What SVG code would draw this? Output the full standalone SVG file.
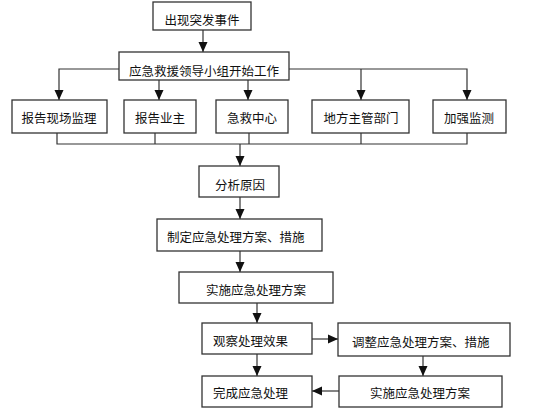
<svg xmlns="http://www.w3.org/2000/svg" width="560" height="420" viewBox="0 0 560 420">
<style>
.box{fill:#fff;stroke:#333;stroke-width:1.3}
.t{font-family:"Noto Sans CJK SC","Liberation Sans",sans-serif;font-size:12.5px;fill:#111}
.c{text-anchor:middle}
.ln{fill:none;stroke:#333;stroke-width:1.2}
</style>
<defs>
<marker id="ah" markerUnits="userSpaceOnUse" markerWidth="10" markerHeight="10" viewBox="0 0 10 10" refX="10" refY="5" orient="auto">
<path d="M0,0.5 L10,5 L0,9.5 Z" fill="#111"/>
</marker>
</defs>
<rect width="560" height="420" fill="#fff"/>
<g id="connectors">
<line class="ln" x1="203" y1="30" x2="203" y2="52" marker-end="url(#ah)"/>
<polyline class="ln" points="119,69 59,69 59,100" marker-end="url(#ah)"/>
<line class="ln" x1="159" y1="80" x2="159" y2="100" marker-end="url(#ah)"/>
<line class="ln" x1="248" y1="80" x2="248" y2="100" marker-end="url(#ah)"/>
<polyline class="ln" points="289,69 467,69 467,100" marker-end="url(#ah)"/>
<line class="ln" x1="361" y1="69" x2="361" y2="100" marker-end="url(#ah)"/>
<polyline class="ln" points="57,133 57,144 467,144 467,133"/>
<line class="ln" x1="155" y1="133" x2="155" y2="144"/>
<line class="ln" x1="249" y1="133" x2="249" y2="144"/>
<line class="ln" x1="361" y1="133" x2="361" y2="144"/>
<line class="ln" x1="240" y1="144" x2="240" y2="166" marker-end="url(#ah)"/>
<line class="ln" x1="240" y1="197" x2="240" y2="219" marker-end="url(#ah)"/>
<line class="ln" x1="240" y1="251" x2="240" y2="272" marker-end="url(#ah)"/>
<line class="ln" x1="257" y1="303" x2="257" y2="323" marker-end="url(#ah)"/>
<line class="ln" x1="312" y1="339" x2="338" y2="339" marker-end="url(#ah)"/>
<line class="ln" x1="257" y1="354" x2="257" y2="376" marker-end="url(#ah)"/>
<line class="ln" x1="423" y1="356" x2="423" y2="376" marker-end="url(#ah)"/>
<line class="ln" x1="339" y1="391" x2="312" y2="391" marker-end="url(#ah)"/>
</g>
<g id="n1"><rect class="box" x="153" y="2" width="98" height="28"/><text class="t c" x="202" y="25">出现突发事件</text></g>
<g id="n2"><rect class="box" x="119" y="52" width="170" height="28"/><text class="t c" x="204" y="76">应急救援领导小组开始工作</text></g>
<g id="n3"><rect class="box" x="12" y="100" width="95" height="33"/><text class="t c" x="59" y="123">报告现场监理</text></g>
<g id="n4"><rect class="box" x="124" y="100" width="72" height="33"/><text class="t c" x="160" y="123">报告业主</text></g>
<g id="n5"><rect class="box" x="216" y="100" width="72" height="33"/><text class="t c" x="252" y="123">急救中心</text></g>
<g id="n6"><rect class="box" x="312" y="100" width="97" height="33"/><text class="t c" x="361" y="123">地方主管部门</text></g>
<g id="n7"><rect class="box" x="433" y="100" width="73" height="33"/><text class="t c" x="469" y="123">加强监测</text></g>
<g id="n8"><rect class="box" x="199" y="166" width="80" height="31"/><text class="t c" x="240" y="190">分析原因</text></g>
<g id="n9"><rect class="box" x="157" y="219" width="165" height="32"/><text class="t" x="167" y="242">制定应急处理方案、措施</text></g>
<g id="n10"><rect class="box" x="179" y="272" width="154" height="31"/><text class="t c" x="256" y="295">实施应急处理方案</text></g>
<g id="n11"><rect class="box" x="202" y="323" width="110" height="31"/><text class="t" x="213" y="346">观察处理效果</text></g>
<g id="n12"><rect class="box" x="338" y="323" width="172" height="33"/><text class="t" x="352" y="347">调整应急处理方案、措施</text></g>
<g id="n13"><rect class="box" x="339" y="376" width="163" height="31"/><text class="t c" x="420" y="398">实施应急处理方案</text></g>
<g id="n14"><rect class="box" x="202" y="376" width="110" height="31"/><text class="t" x="213" y="398">完成应急处理</text></g>
</svg>
